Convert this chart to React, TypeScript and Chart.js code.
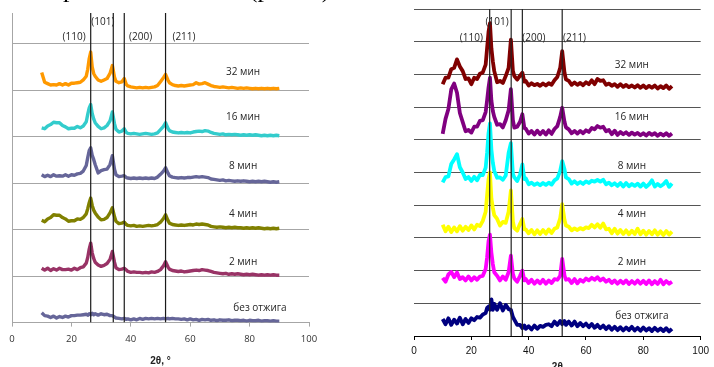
import React, { useEffect, useRef } from 'react';
import { Chart, registerables } from 'chart.js';

Chart.register(...registerables);

// 2θ sampling positions (degrees)
const TWO_THETA = [10,11,12,13,14,15,16,17,18,19,20,21,22,23,24,25,25.5,26,26.5,27,27.5,28,29,30,31,32,33,33.8,34.5,35,36,37,37.8,38.5,39,40,41,42,43,44,45,46,47,48,49,50,51,51.7,52.5,53,54,55,56,57,58,59,60,61,62,63,64,65,66,67,68,69,70,71,72,73,74,75,76,77,78,79,80,81,82,83,84,85,86,87,88,89,90];

const SERIES_NAMES = ['без отжига', '2 мин', '4 мин', '8 мин', '16 мин', '32 мин'];
const PEAK_NAMES = ['(110)', '(101)', '(200)', '(211)'];
const LEFT_PEAKS = [26.5, 34.1, 37.8, 51.7];
const RIGHT_PEAKS = [26.4, 33.9, 37.8, 51.7];
const X_TICKS = [0, 20, 40, 60, 80, 100];
const TOP_TEXT = 'ень кристалличности (рис. 3).';

// ---- left panel (offset stacked intensities, grid units) ----
const LEFT_0 = [0.21,0.15,0.14,0.11,0.14,0.10,0.13,0.11,0.14,0.12,0.15,0.15,0.16,0.16,0.17,
  0.18,0.16,0.19,0.17,0.20,0.17,0.19,
  0.16,0.19,0.17,0.18,0.15,
  0.15,0.12,0.10,0.09,0.08,0.09,0.07,0.08,
  0.06,0.08,0.06,0.09,0.07,0.09,0.08,0.09,0.08,0.09,0.08,
  0.09,0.08,0.09,0.08,
  0.09,0.08,0.08,0.07,0.08,0.06,0.08,0.06,0.07,0.05,0.07,0.06,0.07,0.05,0.06,0.04,0.06,0.05,0.05,0.06,0.04,0.05,0.05,0.04,0.05,0.03,0.05,0.04,0.04,0.05,0.03,0.04,0.04,0.03,0.04,0.03,0.03];
const LEFT_1 = [1.17,1.13,1.17,1.12,1.16,1.13,1.17,1.14,1.14,1.15,1.13,1.17,1.14,1.18,1.20,
  1.28,1.40,1.58,1.71,1.50,1.38,1.30,
  1.24,1.21,1.23,1.27,1.36,
  1.53,1.30,1.18,1.14,1.15,1.17,1.13,1.10,
  1.08,1.09,1.08,1.08,1.07,1.08,1.07,1.09,1.08,1.10,1.14,
  1.22,1.31,1.20,1.15,
  1.12,1.11,1.10,1.11,1.09,1.10,1.11,1.12,1.13,1.12,1.14,1.13,1.12,1.10,1.08,1.07,1.06,1.05,1.06,1.04,1.05,1.04,1.05,1.04,1.03,1.04,1.03,1.04,1.03,1.02,1.03,1.02,1.03,1.02,1.03,1.02,1.02];
const LEFT_2 = [2.20,2.17,2.23,2.26,2.32,2.31,2.31,2.26,2.23,2.18,2.19,2.19,2.23,2.22,2.26,
  2.34,2.45,2.58,2.68,2.52,2.42,2.36,
  2.27,2.21,2.22,2.26,2.36,
  2.47,2.28,2.18,2.13,2.14,2.16,2.11,2.09,
  2.08,2.09,2.07,2.08,2.07,2.08,2.09,2.08,2.09,2.11,2.16,
  2.24,2.32,2.20,2.14,
  2.11,2.10,2.09,2.10,2.09,2.10,2.11,2.10,2.12,2.11,2.12,2.11,2.10,2.07,2.06,2.05,2.06,2.05,2.04,2.05,2.04,2.05,2.04,2.04,2.03,2.04,2.03,2.04,2.03,2.04,2.03,2.02,2.03,2.02,2.03,2.02,2.03];
const LEFT_3 = [3.18,3.14,3.17,3.14,3.18,3.15,3.16,3.15,3.18,3.15,3.18,3.17,3.20,3.21,3.26,
  3.38,3.55,3.70,3.76,3.60,3.51,3.40,
  3.22,3.27,3.29,3.30,3.40,
  3.59,3.30,3.18,3.14,3.15,3.16,3.12,3.11,
  3.10,3.11,3.10,3.11,3.10,3.11,3.10,3.11,3.10,3.13,3.19,
  3.26,3.33,3.22,3.16,
  3.13,3.12,3.11,3.12,3.11,3.12,3.12,3.13,3.14,3.13,3.14,3.13,3.12,3.09,3.08,3.07,3.06,3.07,3.05,3.06,3.05,3.04,3.05,3.04,3.05,3.04,3.03,3.04,3.03,3.04,3.03,3.04,3.03,3.02,3.03,3.02,3.03];
const LEFT_4 = [4.19,4.17,4.23,4.26,4.31,4.30,4.30,4.24,4.21,4.17,4.18,4.18,4.22,4.19,4.23,
  4.32,4.48,4.62,4.69,4.50,4.38,4.30,
  4.22,4.17,4.19,4.24,4.34,
  4.53,4.28,4.16,4.10,4.12,4.17,4.09,4.07,
  4.06,4.07,4.06,4.05,4.06,4.07,4.06,4.05,4.06,4.08,4.15,
  4.22,4.30,4.18,4.13,
  4.10,4.09,4.08,4.09,4.08,4.09,4.08,4.10,4.11,4.12,4.11,4.13,4.12,4.09,4.07,4.06,4.05,4.06,4.04,4.05,4.04,4.05,4.04,4.03,4.04,4.03,4.04,4.03,4.04,4.03,4.02,4.03,4.02,4.03,4.02,4.03,4.02];
const LEFT_5 = [5.38,5.17,5.14,5.11,5.12,5.11,5.14,5.11,5.14,5.11,5.15,5.15,5.16,5.17,5.22,
  5.30,5.45,5.68,5.82,5.50,5.36,5.30,
  5.22,5.19,5.22,5.25,5.36,
  5.53,5.28,5.19,5.16,5.18,5.25,5.12,5.09,
  5.07,5.06,5.05,5.06,5.05,5.06,5.05,5.06,5.07,5.10,5.18,
  5.27,5.34,5.22,5.16,
  5.12,5.10,5.09,5.10,5.09,5.10,5.11,5.12,5.16,5.13,5.14,5.16,5.13,5.10,5.08,5.07,5.06,5.07,5.06,5.05,5.06,5.05,5.04,5.05,5.04,5.05,5.04,5.03,5.04,5.03,5.04,5.03,5.04,5.03,5.04,5.03,5.04];

// ---- right panel ----
const RIGHT_0 = [0.52,0.36,0.54,0.34,0.50,0.38,0.56,0.36,0.52,0.40,0.54,0.48,0.58,0.56,0.66,
  0.70,0.86,0.90,0.80,1.12,0.80,0.98,
  0.80,1.00,0.78,0.95,0.82,
  0.80,0.58,0.50,0.34,0.34,0.24,0.32,0.22,
  0.30,0.20,0.32,0.22,0.31,0.28,0.34,0.36,0.30,0.44,0.34,
  0.46,0.36,0.46,0.34,
  0.44,0.32,0.44,0.30,0.40,0.30,0.38,0.27,0.37,0.25,0.34,0.24,0.32,0.21,0.30,0.19,0.28,0.18,0.27,0.17,0.26,0.18,0.28,0.17,0.25,0.16,0.26,0.17,0.24,0.15,0.25,0.16,0.23,0.15,0.24,0.14,0.22];
const RIGHT_1 = [1.78,1.66,1.88,1.96,1.80,1.94,1.74,1.80,1.70,1.82,1.70,1.80,1.72,1.82,1.84,
  2.05,2.40,2.90,3.10,2.55,2.20,1.95,
  1.84,1.70,1.82,1.72,1.95,
  2.46,1.90,1.76,1.66,1.84,2.00,1.70,1.74,
  1.62,1.72,1.60,1.70,1.61,1.72,1.60,1.70,1.62,1.74,1.72,
  1.84,2.36,1.85,1.72,
  1.74,1.62,1.74,1.61,1.72,1.66,1.76,1.70,1.78,1.72,1.80,1.70,1.76,1.66,1.72,1.62,1.70,1.60,1.69,1.61,1.70,1.59,1.68,1.60,1.70,1.60,1.69,1.59,1.70,1.58,1.68,1.59,1.72,1.58,1.68,1.60,1.66];
const RIGHT_2 = [3.40,3.20,3.34,3.18,3.32,3.20,3.36,3.22,3.34,3.24,3.38,3.26,3.40,3.36,3.52,
  3.80,4.30,4.80,5.00,4.20,3.92,3.70,
  3.58,3.38,3.49,3.46,3.80,
  4.45,3.50,3.30,3.22,3.43,3.58,3.26,3.26,
  3.14,3.24,3.11,3.23,3.12,3.24,3.13,3.26,3.15,3.28,3.32,
  3.60,4.03,3.55,3.38,
  3.34,3.23,3.29,3.24,3.30,3.26,3.32,3.30,3.40,3.32,3.42,3.31,3.44,3.26,3.28,3.14,3.28,3.13,3.24,3.12,3.23,3.11,3.22,3.12,3.28,3.11,3.22,3.10,3.21,3.11,3.23,3.10,3.20,3.09,3.21,3.10,3.19];
const RIGHT_3 = [4.70,4.86,4.88,5.26,5.40,5.56,5.16,5.00,4.80,4.86,4.74,4.87,4.76,4.93,4.92,
  5.15,5.60,6.20,6.50,5.70,5.30,5.05,
  4.84,4.85,4.78,4.91,5.60,
  5.90,4.95,4.85,4.74,4.94,5.25,4.80,4.82,
  4.64,4.69,4.62,4.67,4.61,4.68,4.62,4.69,4.63,4.76,4.82,
  5.05,5.35,5.10,4.85,
  4.80,4.66,4.73,4.65,4.71,4.65,4.73,4.68,4.75,4.72,4.77,4.72,4.78,4.64,4.69,4.61,4.67,4.59,4.68,4.57,4.68,4.58,4.65,4.59,4.66,4.57,4.66,4.56,4.64,4.76,4.57,4.65,4.58,4.64,4.74,4.56,4.66];
const RIGHT_4 = [6.18,6.64,6.94,7.54,7.72,7.44,6.82,6.54,6.26,6.30,6.22,6.40,6.40,6.58,6.60,
  6.85,7.20,7.60,7.90,7.20,6.88,6.70,
  6.46,6.48,6.38,6.60,6.90,
  7.55,6.60,6.37,6.40,6.55,6.78,6.36,6.34,
  6.19,6.27,6.16,6.28,6.17,6.27,6.16,6.29,6.18,6.33,6.42,
  6.70,6.98,6.55,6.38,
  6.32,6.20,6.27,6.19,6.27,6.20,6.29,6.24,6.36,6.32,6.42,6.37,6.40,6.26,6.30,6.17,6.28,6.15,6.24,6.17,6.23,6.15,6.22,6.16,6.21,6.14,6.20,6.13,6.21,6.15,6.20,6.12,6.19,6.13,6.20,6.12,6.19];
const RIGHT_5 = [7.70,7.90,7.90,8.16,8.20,8.46,8.24,8.10,7.86,7.88,7.70,7.90,7.86,8.02,8.06,
  8.30,8.80,9.30,9.57,8.80,8.40,8.10,
  7.76,7.80,7.74,7.95,8.20,
  9.06,8.10,7.95,7.84,7.96,8.05,7.78,7.80,
  7.66,7.73,7.67,7.71,7.65,7.72,7.66,7.73,7.68,7.82,7.92,
  8.20,8.71,8.05,7.85,
  7.80,7.68,7.75,7.68,7.74,7.67,7.76,7.70,7.82,7.70,7.86,7.80,7.82,7.68,7.72,7.65,7.70,7.62,7.70,7.62,7.68,7.61,7.66,7.60,7.67,7.59,7.66,7.58,7.65,7.59,7.66,7.57,7.64,7.58,7.66,7.56,7.64];

const LEFT_SERIES = [LEFT_0, LEFT_1, LEFT_2, LEFT_3, LEFT_4, LEFT_5];
const RIGHT_SERIES = [RIGHT_0, RIGHT_1, RIGHT_2, RIGHT_3, RIGHT_4, RIGHT_5];

// ---- layout / style (not data) ----
const LEFT_CFG = {
  left: 0, width: 340, height: 380,
  padding: { left: 12, right: 31, top: 13, bottom: 28 },
  yMax: 6.66,
  series: LEFT_SERIES,
  peaks: LEFT_PEAKS,
  colors: ['#666699', '#993366', '#808000', '#666699', '#33CCCC', '#FF9900'],
  lineWidth: 3.4,
  gridColor: '#a6a6a6',
  axisColor: '#a6a6a6',
  showYBorder: true,
  peakLineColor: '#1a1a1a',
  tickFont: { family: '"Open Sans", sans-serif', size: 9.5 },
  tickColor: '#333',
  tickPadding: 7,
  title: '2θ, °',
  titleOffset: 39,
  peakLabelPos: [[20.9, 6.14], [30.6, 6.46], [43.3, 6.14], [57.9, 6.14]],
  seriesLabelPos: [[83.5, 0.3], [77.8, 1.29], [77.8, 2.34], [77.8, 3.36], [77.8, 4.41], [77.8, 5.38]],
};
const RIGHT_CFG = {
  left: 380, width: 334, height: 390,
  padding: { left: 34, right: 11, top: 9, bottom: 28 },
  yMax: 10,
  series: RIGHT_SERIES,
  peaks: RIGHT_PEAKS,
  colors: ['#000080', '#FF00FF', '#FFFF00', '#00FFFF', '#800080', '#800000'],
  lineWidth: 3.8,
  gridColor: '#555555',
  axisColor: '#000000',
  showYBorder: false,
  peakLineColor: '#222222',
  tickFont: { family: '"Liberation Sans", Arial, sans-serif', size: 10 },
  tickColor: '#111',
  tickPadding: 5,
  title: '2θ',
  titleOffset: 31,
  peakLabelPos: [[20.0, 9.12], [29.0, 9.61], [41.8, 9.12], [56.0, 9.12]],
  seriesLabelPos: [[79.5, 0.62], [76.0, 2.27], [76.0, 3.73], [76.0, 5.19], [76.0, 6.69], [76.0, 8.27]],
};

function Panel({ cfg }: { cfg: any }) {
  const ref = useRef<HTMLCanvasElement | null>(null);
  useEffect(() => {
    const datasets: any[] = [];
    cfg.peaks.forEach((p: number) => {
      datasets.push({
        data: [{ x: p, y: 0 }, { x: p, y: cfg.yMax }],
        borderColor: cfg.peakLineColor,
        borderWidth: 1.2,
        pointRadius: 0,
      });
    });
    [5, 4, 3, 2, 1, 0].forEach((i) => {
      datasets.push({
        label: SERIES_NAMES[i],
        data: TWO_THETA.map((x, k) => ({ x, y: cfg.series[i][k] })),
        borderColor: cfg.colors[i],
        borderWidth: cfg.lineWidth,
        borderJoinStyle: 'round',
        borderCapStyle: 'butt',
        pointRadius: 0,
        tension: 0,
      });
    });
    const textPlugin = {
      id: 'overlayText',
      afterDraw(chart: any) {
        const { ctx, scales, chartArea } = chart;
        const x = scales.x;
        const y = scales.y;
        ctx.save();
        ctx.fillStyle = '#262626';
        ctx.textAlign = 'center';
        ctx.textBaseline = 'middle';
        ctx.font = '10px "Open Sans", sans-serif';
        PEAK_NAMES.forEach((t, i) => {
          const [px, py] = cfg.peakLabelPos[i];
          ctx.fillText(t, x.getPixelForValue(px), y.getPixelForValue(py));
        });
        SERIES_NAMES.forEach((t, i) => {
          const [px, py] = cfg.seriesLabelPos[i];
          ctx.fillText(t, x.getPixelForValue(px), y.getPixelForValue(py));
        });
        ctx.fillStyle = '#222';
        ctx.font = 'bold 10px "Liberation Sans", Arial, sans-serif';
        ctx.fillText(cfg.title, (chartArea.left + chartArea.right) / 2, chartArea.bottom + cfg.titleOffset);
        ctx.restore();
      },
    };
    const chart = new Chart(ref.current as HTMLCanvasElement, {
      type: 'line',
      data: { datasets },
      options: {
        animation: false,
        responsive: false,
        devicePixelRatio: 1,
        events: [],
        layout: { padding: cfg.padding },
        plugins: { legend: { display: false }, tooltip: { enabled: false } },
        scales: {
          x: {
            type: 'linear',
            min: 0,
            max: 100,
            afterBuildTicks: (axis: any) => {
              axis.ticks = X_TICKS.map((v) => ({ value: v }));
            },
            grid: { display: true, drawOnChartArea: false, drawTicks: true, tickLength: 4, color: cfg.axisColor },
            border: { display: true, color: cfg.axisColor, width: 1 },
            ticks: { font: cfg.tickFont, color: cfg.tickColor, padding: cfg.tickPadding, maxRotation: 0 },
            title: { display: false },
          },
          y: {
            type: 'linear',
            min: 0,
            max: cfg.yMax,
            ticks: { display: false, stepSize: 1 },
            afterBuildTicks: (axis: any) => {
              axis.ticks = axis.ticks.filter((t: any) => Number.isInteger(t.value));
            },
            grid: { color: cfg.gridColor, drawTicks: false, lineWidth: 1 },
            border: { display: cfg.showYBorder, color: cfg.axisColor },
          },
        },
      },
      plugins: [textPlugin],
    } as any);
    return () => chart.destroy();
  }, []);
  return (
    <canvas
      ref={ref}
      width={cfg.width}
      height={cfg.height}
      style={{ position: 'absolute', left: cfg.left, top: 0, width: cfg.width, height: cfg.height }}
    />
  );
}

export default function App() {
  return (
    <div style={{ position: 'fixed', left: 0, top: 0, width: 714, height: 367, overflow: 'hidden', background: '#fff' }}>
      <Panel cfg={LEFT_CFG} />
      <Panel cfg={RIGHT_CFG} />
      <div
        style={{
          position: 'absolute', right: 377, top: -24, whiteSpace: 'nowrap',
          fontFamily: '"Liberation Serif", "Times New Roman", serif', fontSize: 26, lineHeight: '26px', color: '#000',
        }}
      >
        {TOP_TEXT}
      </div>
    </div>
  );
}
